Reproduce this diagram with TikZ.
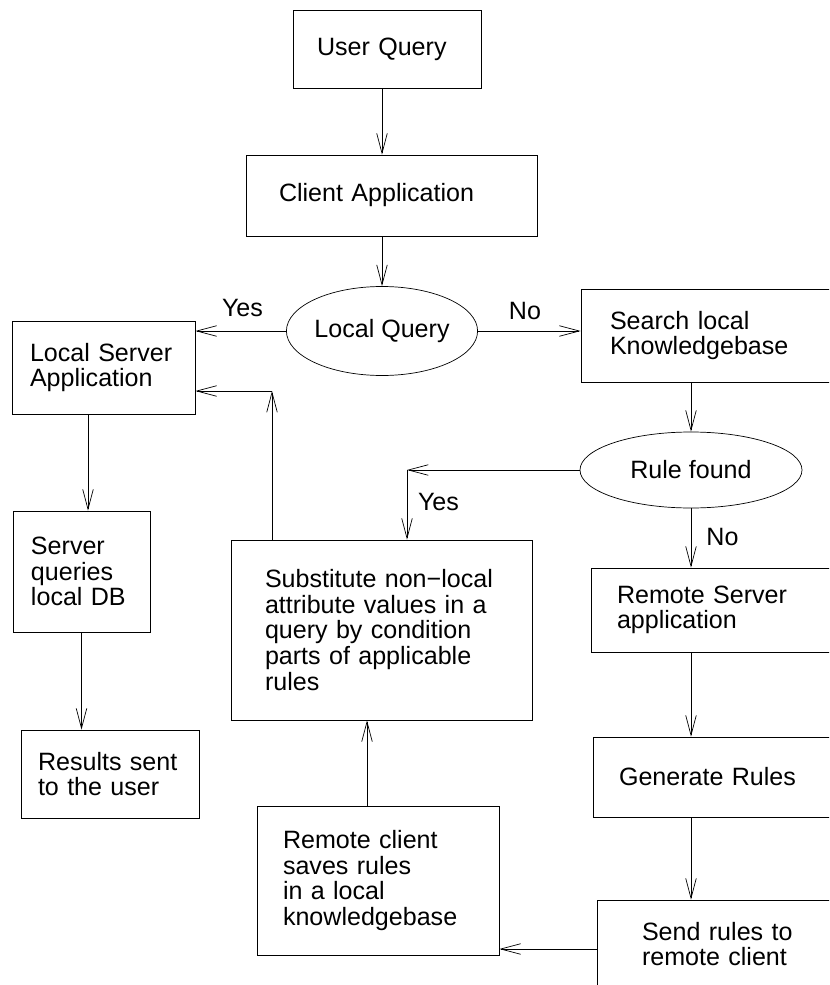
\documentclass[tikz,border=0pt]{standalone}
\usepackage{fontspec}
\setmainfont{Liberation Sans}
\usepackage{tikz}
\usetikzlibrary{arrows.meta,shapes.geometric}

% one pixel of the drawing grid
\newlength\unitpx
\setlength\unitpx{0.03cm}

\begin{document}
\begin{tikzpicture}[x=0.03cm, y=-0.03cm, line width=0.6pt,
  every node/.style={font=\fontsize{21.4}{21.8}\selectfont},
  box/.style={draw, align=left, inner ysep=0pt},
  query/.style={draw, ellipse, inner sep=0pt},
  arr/.style={-{Straight Barb[length=17pt,width=9pt]}}]

\clip (0,0) rectangle (829,985);

% client side
\path
(387,49) node[box, text width=140\unitpx, inner xsep=24\unitpx, minimum height=78\unitpx] (user) {User Query}
(391.5,195.5) node[box, text width=225\unitpx, inner xsep=33\unitpx, minimum height=81\unitpx] (client) {Client Application}
(382,331) node[query, minimum width=188\unitpx, minimum height=89\unitpx] (local) {Local Query};

% local branch
\path
(103.5,367.5) node[box, text width=147\unitpx, inner xsep=18\unitpx, minimum height=93\unitpx] (lserver) {Local Server\\Application}
(81.5,571.5) node[box, text width=101\unitpx, inner xsep=18\unitpx, minimum height=121\unitpx] (dbquery) {Server\\queries\\local DB}
(110,774) node[box, text width=144\unitpx, inner xsep=17\unitpx, minimum height=88\unitpx] (results) {Results sent\\to the user};

% knowledgebase branch
\path
(721,335.5) node[box, text width=222\unitpx, inner xsep=29\unitpx, minimum height=93\unitpx] (search) {Search local\\Knowledgebase}
(691,470) node[query, minimum width=222\unitpx, minimum height=76\unitpx] (found) {Rule found}
(381.5,630) node[box, text width=233\unitpx, inner xsep=34\unitpx, minimum height=180\unitpx] (subst) {Substitute non−local\\attribute values in a\\query by condition\\parts of applicable\\rules}
(726,610) node[box, text width=218\unitpx, inner xsep=26\unitpx, minimum height=84\unitpx] (rserver) {Remote Server\\application}
(728,777) node[box, text width=218\unitpx, inner xsep=26\unitpx, minimum height=80\unitpx] (genrules) {Generate Rules}
(737,944) node[box, text width=190\unitpx, inner xsep=45\unitpx, minimum height=88\unitpx] (sendrules) {Send rules to\\remote client}
(378,880.5) node[box, text width=190\unitpx, inner xsep=26\unitpx, minimum height=149\unitpx] (saverules) {Remote client\\saves rules\\in a local\\knowledgebase};

% yes / no labels
\path
(242.5,308) node (yesa) {Yes}
(525,311) node (noa) {No}
(438.5,502) node (yesb) {Yes}
(722.5,537) node (nob) {No};

% bends of the connectors
\coordinate (leftdown) at (88,0);
\coordinate (yesturn) at (407,468);
\coordinate (backturn) at (272,391);
\coordinate (upcol) at (367,0);
\coordinate (lowrow) at (0,949);

% arrows
\draw[arr] (user.south -| local.north) -- (client.north -| local.north);
\draw[arr] (client.south -| local.north) -- (local.north);
\draw[arr] (local.west) -- (local.west -| lserver.east);
\draw[arr] (local.east) -- (local.east -| search.west);
\draw[arr] (leftdown |- lserver.south) -- (leftdown |- dbquery.north);
\draw[arr] (dbquery.south) -- (dbquery.south |- results.north);
\draw[arr] (search.south -| found.north) -- (found.north);
\draw[arr] (found.west) -- (found.west -| yesturn);
\draw[arr] (yesturn |- found.west) -- (yesturn |- subst.north);
\draw[arr] (found.south) -- (found.south |- rserver.north);
\draw[arr] (rserver.south -| found.south) -- (genrules.north -| found.south);
\draw[arr] (genrules.south -| found.south) -- (sendrules.north -| found.south);
\draw[arr] (sendrules.west |- lowrow) -- (saverules.east |- lowrow);
\draw[arr] (upcol |- saverules.north) -- (upcol |- subst.south);
\draw[arr] (backturn |- subst.north) -- (backturn);
\draw[arr] (backturn) -- (backturn -| lserver.east);

\end{tikzpicture}
\end{document}
